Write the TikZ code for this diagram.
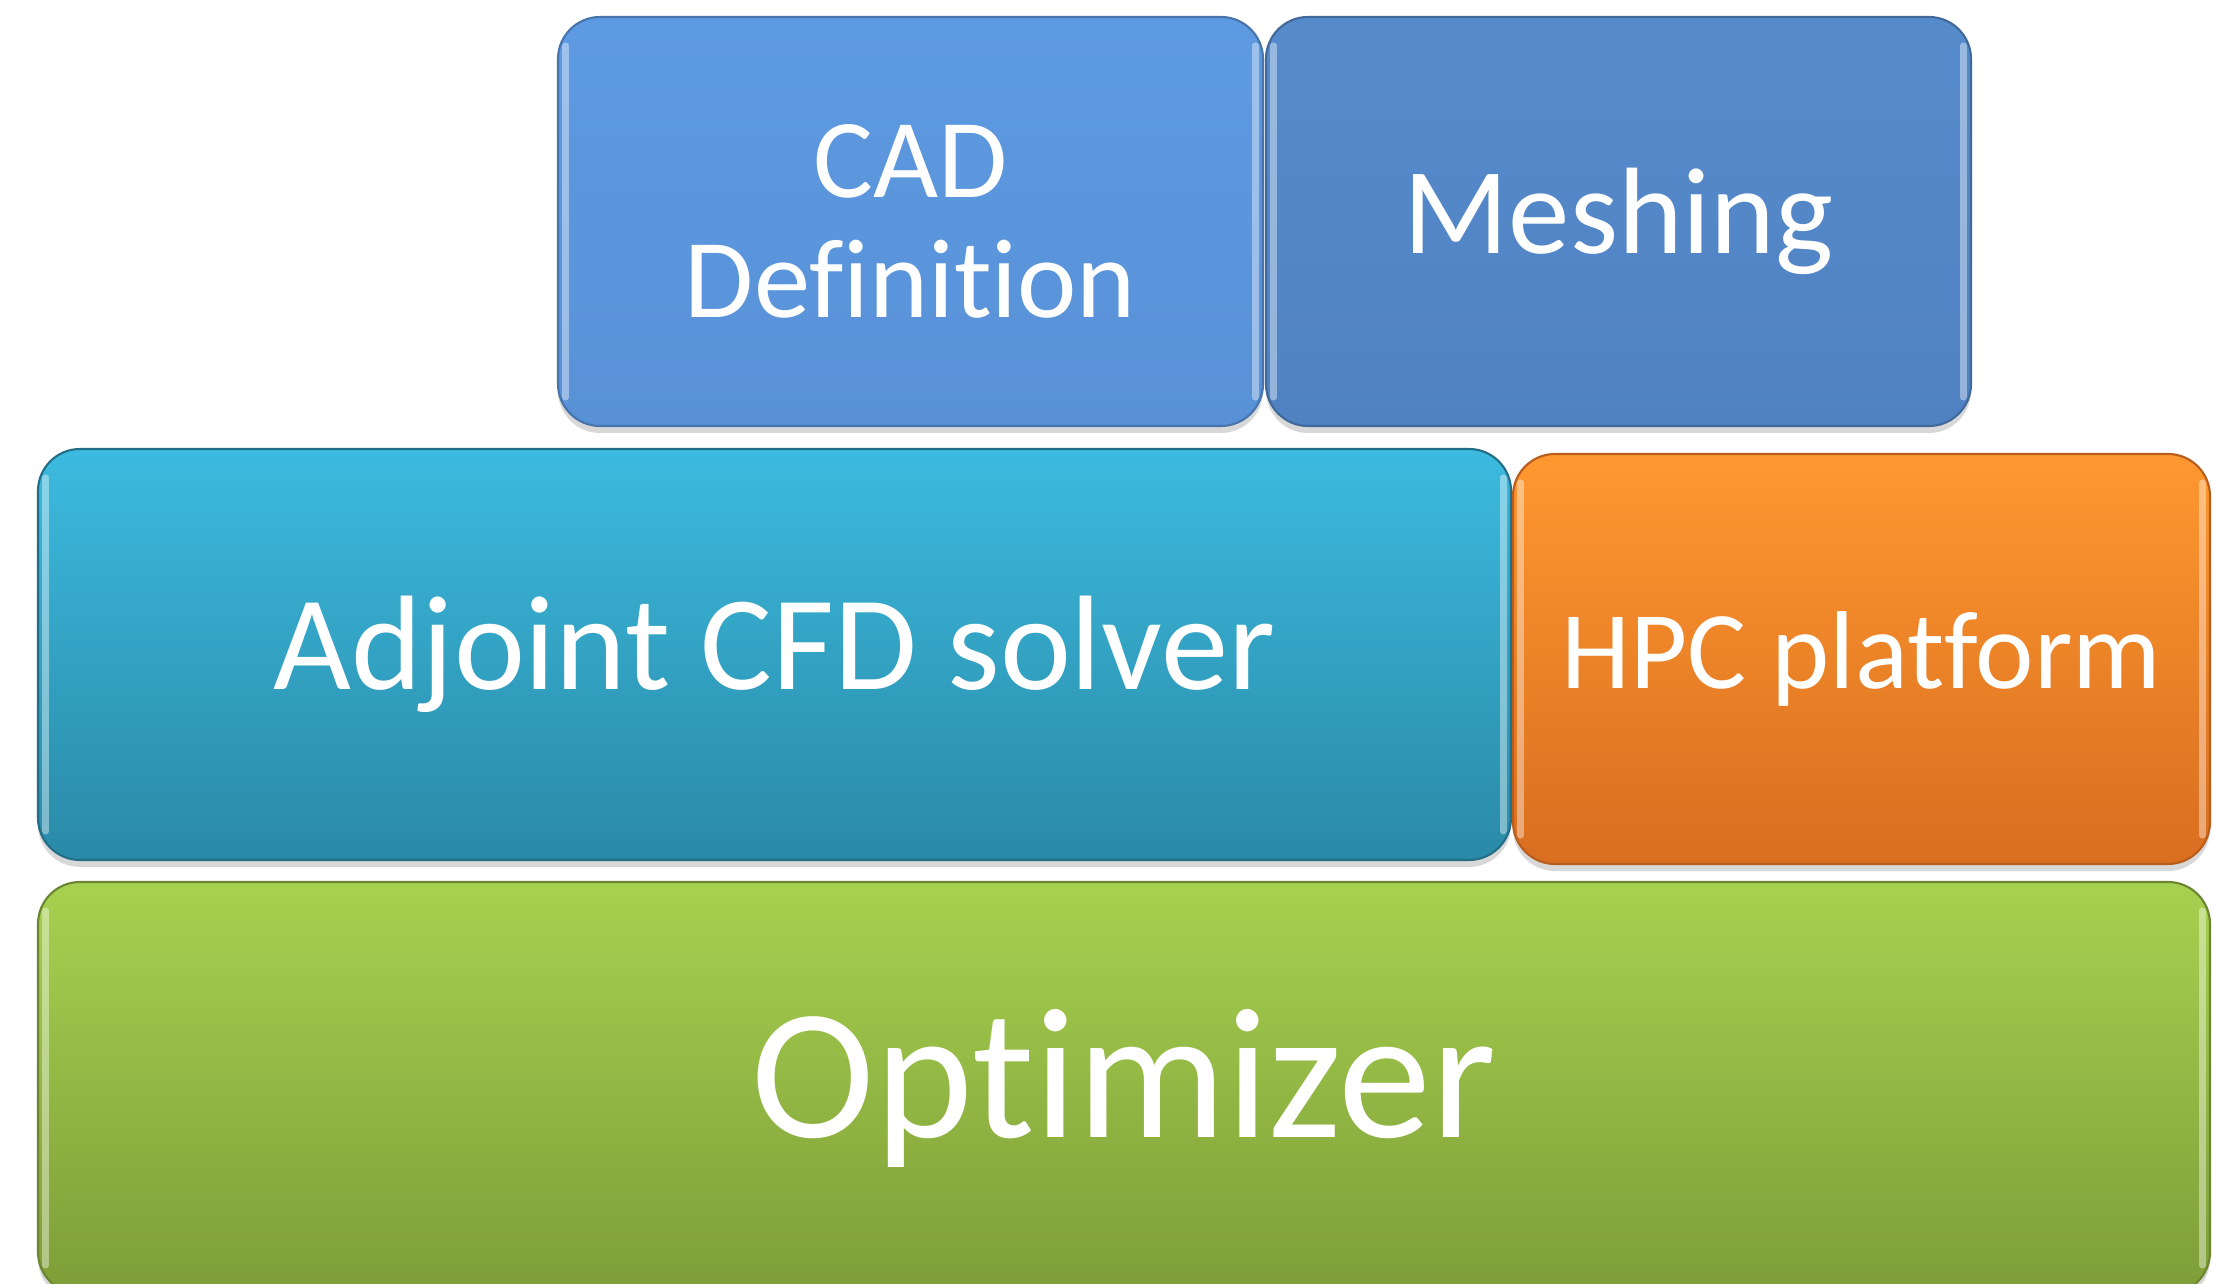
\documentclass[tikz,border=0pt]{standalone}
\usepackage{fontspec}
\setmainfont{Carlito}[Ligatures={NoCommon,NoContextual}]
\usetikzlibrary{shadows}

\definecolor{cadtop}{RGB}{94,154,226}
\definecolor{cadbot}{RGB}{88,145,214}
\definecolor{meshtop}{RGB}{86,139,203}
\definecolor{meshbot}{RGB}{80,130,194}
\definecolor{adjtop}{RGB}{60,186,223}
\definecolor{adjbot}{RGB}{42,138,167}
\definecolor{hpctop}{RGB}{255,152,48}
\definecolor{hpcbot}{RGB}{216,110,32}
\definecolor{opttop}{RGB}{167,209,80}
\definecolor{optbot}{RGB}{126,157,56}

\tikzset{
  block/.style={rounded corners=0.42cm, text=white, inner sep=0pt, align=center,
    line width=0.6pt, drop shadow={opacity=0.3, shadow xshift=0pt, shadow yshift=-0.07cm}},
  gloss/.style={white, opacity=0.4, line width=2pt, line cap=round}
}

\begin{document}
\begin{tikzpicture}
\fill[white] (0,0) rectangle (22.13,12.84);
\useasboundingbox (0,0) rectangle (22.13,12.84);
\clip (0,0) rectangle (22.13,12.84);

% top row
\node[block, top color=cadtop, bottom color=cadbot, draw=cadbot!80!black,
  minimum width=7.05cm, minimum height=4.09cm, font=\fontsize{32}{34}\selectfont]
  (cad) at (9.105,10.625) {CAD\\Definition};
\node[block, top color=meshtop, bottom color=meshbot, draw=meshbot!80!black,
  minimum width=7.05cm, minimum height=4.09cm, font=\fontsize{35}{40}\selectfont]
  (mesh) at (16.185,10.625) {Meshing};

% middle row
\node[block, top color=adjtop, bottom color=adjbot, draw=adjbot!80!black,
  minimum width=14.73cm, minimum height=4.11cm, font=\fontsize{38.3}{44}\selectfont]
  (solver) at (7.745,6.295) {Adjoint CFD solver};
\node[block, top color=hpctop, bottom color=hpcbot, draw=hpcbot!85!black,
  minimum width=6.97cm, minimum height=4.10cm, font=\fontsize{31.5}{36}\selectfont]
  (hpc) at (18.615,6.25) {HPC platform};

% bottom row
\node[block, top color=opttop, bottom color=optbot, draw=optbot!85!black,
  minimum width=21.72cm, minimum height=4.12cm, font=\fontsize{53}{60}\selectfont]
  (opt) at (11.24,1.96) {Optimizer};

% highlights on the side edges
\foreach \n in {cad,mesh,solver,hpc,opt}{
  \draw[gloss] ([shift={(0.09,-0.3)}]\n.north west) -- ([shift={(0.09,0.3)}]\n.south west);
  \draw[gloss] ([shift={(-0.09,-0.3)}]\n.north east) -- ([shift={(-0.09,0.3)}]\n.south east);
}
\end{tikzpicture}
\end{document}
